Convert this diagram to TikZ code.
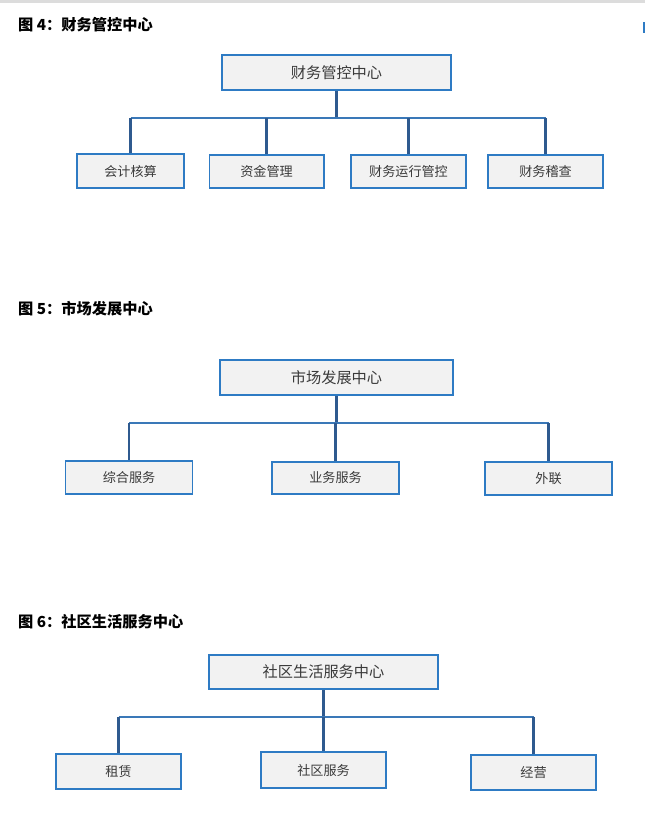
\documentclass[tikz,border=0pt]{standalone}
\usepackage{fontspec}
\usepackage{tikz}
\newfontfamily\cjk{Noto Sans CJK SC}
\definecolor{boxline}{HTML}{2E7BC4}
\definecolor{boxfill}{HTML}{F2F2F2}
\definecolor{stem}{HTML}{2F5A8F}
\definecolor{bus}{HTML}{3A78B8}
\definecolor{ink}{HTML}{3A3A3A}
\definecolor{rule}{HTML}{DCDCDC}

\begin{document}
\begin{tikzpicture}[x=0.03cm,y=-0.03cm,
  headbox/.style={draw=boxline,fill=boxfill,line width=1.7pt,inner sep=0pt,text=ink,font=\cjk\fontsize{13}{15}\selectfont},
  unitbox/.style={draw=boxline,fill=boxfill,line width=1.7pt,inner sep=0pt,text=ink,font=\cjk\fontsize{11.2}{13}\selectfont},
  stemline/.style={draw=stem,line width=1.8pt},
  busline/.style={draw=bus,line width=1.8pt},
  figtitle/.style={anchor=west,inner sep=0pt,font=\cjk\bfseries\fontsize{13}{15}\selectfont}]
  \useasboundingbox (0,0) rectangle (645,815);
  \fill[rule] (0,0) rectangle (645,3.5);
  \fill[boxline] (643,22) rectangle (645,33);

  % figure 4
  \node[figtitle] (t4) at (18,25) {图 4：财务管控中心};
  \node[headbox,minimum width=229*0.03cm,minimum height=35*0.03cm] (fin) at (336.5,72.5) {财务管控中心};
  \node[unitbox,minimum width=107*0.03cm,minimum height=34*0.03cm] (kj) at (130.5,171) {会计核算};
  \node[unitbox,minimum width=114*0.03cm,minimum height=33*0.03cm] (zj) at (266.5,171.5) {资金管理};
  \node[unitbox,minimum width=115*0.03cm,minimum height=33*0.03cm] (yx) at (408.5,171.5) {财务运行管控};
  \node[unitbox,minimum width=115*0.03cm,minimum height=33*0.03cm] (jc) at (545.5,171.5) {财务稽查};
  \coordinate (b4) at (0,118);
  \draw[stemline] (fin.south) -- (fin.south |- b4);
  \draw[busline] (kj.north |- b4) -- (jc.north |- b4);
  \foreach \n in {kj,zj,yx,jc}
    \draw[stemline] (\n.north) -- (\n.north |- b4);

  % figure 5
  \node[figtitle] (t5) at (18,309) {图 5：市场发展中心};
  \node[headbox,minimum width=233*0.03cm,minimum height=35*0.03cm] (mkt) at (336.5,377.5) {市场发展中心};
  \node[unitbox,minimum width=127*0.03cm,minimum height=33*0.03cm] (zh) at (129,477.5) {综合服务};
  \node[unitbox,minimum width=127*0.03cm,minimum height=32*0.03cm] (yw) at (335.5,478) {业务服务};
  \node[unitbox,minimum width=127*0.03cm,minimum height=33*0.03cm] (wl) at (548.5,478.5) {外联};
  \coordinate (b5) at (0,423);
  \draw[stemline] (mkt.south) -- (mkt.south |- b5);
  \draw[busline] (zh.north |- b5) -- (wl.north |- b5);
  \foreach \n in {zh,yw,wl}
    \draw[stemline] (\n.north) -- (\n.north |- b5);

  % figure 6
  \node[figtitle] (t6) at (18,622) {图 6：社区生活服务中心};
  \node[headbox,minimum width=229*0.03cm,minimum height=34*0.03cm] (life) at (323.5,672) {社区生活服务中心};
  \node[unitbox,minimum width=125*0.03cm,minimum height=35*0.03cm] (zl) at (118.5,771.5) {租赁};
  \node[unitbox,minimum width=125*0.03cm,minimum height=36*0.03cm] (sq) at (323.5,770) {社区服务};
  \node[unitbox,minimum width=125*0.03cm,minimum height=35*0.03cm] (jy) at (533.5,772.5) {经营};
  \coordinate (b6) at (0,717);
  \draw[stemline] (life.south) -- (life.south |- b6);
  \draw[busline] (zl.north |- b6) -- (jy.north |- b6);
  \foreach \n in {zl,sq,jy}
    \draw[stemline] (\n.north) -- (\n.north |- b6);
\end{tikzpicture}
\end{document}
